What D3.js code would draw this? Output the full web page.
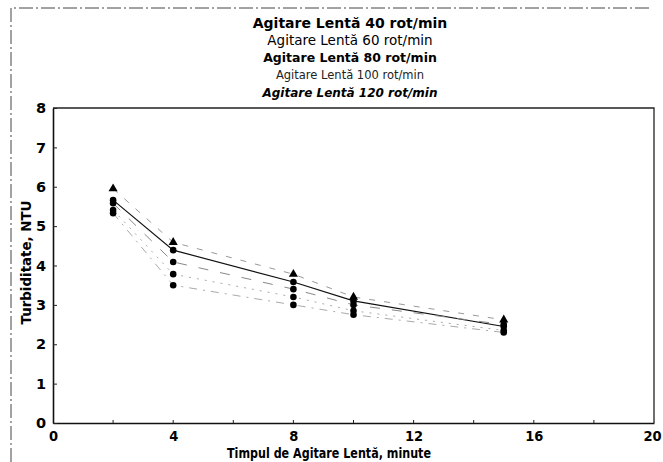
<!DOCTYPE html>
<html>
<head>
<meta charset="utf-8">
<script src="https://cdn.jsdelivr.net/npm/d3@7/dist/d3.min.js"></script>
<style>
  html, body { margin: 0; padding: 0; background: #fff; }
  svg { display: block; }
  text { font-family: "DejaVu Sans", Verdana, sans-serif; fill: #000; }
  .cond { font-stretch: condensed; }
</style>
</head>
<body>
<svg id="chart" width="663" height="462"></svg>
<script>
// Slow-mixing time (minutes) and measured turbidity (NTU) per stirring speed
const times = [2, 4, 8, 10, 15];
const seriesNames = [
  "Agitare Lentă 40 rot/min",
  "Agitare Lentă 60 rot/min",
  "Agitare Lentă 80 rot/min",
  "Agitare Lentă 100 rot/min",
  "Agitare Lentă 120 rot/min"
];
const rpm40  = [5.95, 4.59, 3.78, 3.20, 2.62];
const rpm60  = [5.66, 4.39, 3.58, 3.10, 2.45];
const rpm80  = [5.58, 4.09, 3.40, 3.00, 2.50];
const rpm100 = [5.41, 3.78, 3.20, 2.85, 2.35];
const rpm120 = [5.33, 3.50, 3.00, 2.75, 2.30];
const xTicks = [0, 4, 8, 12, 16, 20];
const yTicks = [0, 1, 2, 3, 4, 5, 6, 7, 8];

const allSeries = [rpm40, rpm60, rpm80, rpm100, rpm120];
const lineStyles = [
  { dash: "6,9",      color: "#999", width: 1 },
  { dash: null,       color: "#111", width: 1.2 },
  { dash: "10,12",    color: "#888", width: 1 },
  { dash: "2,6",      color: "#aaa", width: 1 },
  { dash: "8,6,2,6",  color: "#aaa", width: 1 }
];
const legendStyles = [
  { weight: "bold",   size: 14,   color: "#000", style: "normal" },
  { weight: "normal", size: 13.5, color: "#000", style: "normal" },
  { weight: "bold",   size: 12.5, color: "#000", style: "normal" },
  { weight: "normal", size: 11.5, color: "#222", style: "normal" },
  { weight: "bold",   size: 12,   color: "#000", style: "italic" }
];
const titleFont = "DejaVu Sans, sans-serif";

const svg = d3.select("#chart");
const m = { left: 53, right: 654, top: 108, bottom: 423 };

const x = d3.scaleLinear().domain([0, 20]).range([m.left, m.right]);
const y = d3.scaleLinear().domain([0, 8]).range([m.bottom, m.top]);

// outer dashed frame
svg.append("path")
  .attr("d", `M11,462 L11,8 L650,8`)
  .attr("fill", "none").attr("stroke", "#444")
  .attr("stroke-width", 1).attr("stroke-dasharray", "14,3,2,3");

// legend block (stacked series names)
seriesNames.forEach((name, i) => {
  const s = legendStyles[i];
  svg.append("text")
    .attr("x", 350).attr("y", 24 + i * 17.3)
    .attr("text-anchor", "middle").attr("dominant-baseline", "middle")
    .attr("font-size", s.size).attr("font-weight", s.weight)
    .attr("font-style", s.style).style("fill", s.color)
    .text(name);
});

// plot frame (top and right)
svg.append("path")
  .attr("d", `M${m.left},${m.top} L${m.right},${m.top} L${m.right},${m.bottom}`)
  .attr("fill", "none").attr("stroke", "#222").attr("stroke-width", 1.3);

// axes
const xAxis = d3.axisBottom(x).tickValues(xTicks).tickSize(0).tickPadding(8)
  .tickFormat(d3.format("d"));
const gx = svg.append("g").attr("transform", `translate(0,${m.bottom})`).call(xAxis);
gx.select(".domain").attr("stroke", "#111").attr("stroke-width", 1.6);
gx.selectAll("text").attr("font-size", 14.5).attr("font-weight", "bold")
  .attr("font-family", "DejaVu Sans, sans-serif").attr("class", "cond");
// keep the last label inside the picture
gx.selectAll(".tick").filter(d => d === 20).select("text").attr("dx", -2);

// minor x ticks inside the plot
svg.append("g").selectAll("line")
  .data(d3.range(2, 20, 2))
  .join("line")
  .attr("x1", d => x(d)).attr("x2", d => x(d))
  .attr("y1", m.bottom).attr("y2", m.bottom - 3)
  .attr("stroke", "#222").attr("stroke-width", 1);

const yAxis = d3.axisLeft(y).tickValues(yTicks).tickSize(0).tickPadding(7)
  .tickFormat(d3.format("d"));
const gy = svg.append("g").attr("transform", `translate(${m.left},0)`).call(yAxis);
gy.select(".domain").attr("stroke", "#111").attr("stroke-width", 1.6);
gy.selectAll("text").attr("font-size", 14.5).attr("font-weight", "bold")
  .attr("font-family", "DejaVu Sans, sans-serif");
gy.selectAll(".tick").append("line")
  .attr("x1", 0).attr("x2", 4).attr("y1", 0).attr("y2", 0)
  .attr("stroke", "#222").attr("stroke-width", 1);

// axis titles
svg.append("text")
  .attr("transform", `translate(27,${(m.top + m.bottom) / 2 - 3}) rotate(-90)`)
  .attr("text-anchor", "middle").attr("dominant-baseline", "middle")
  .attr("font-size", 14).attr("font-weight", "bold")
  .attr("font-family", titleFont)
  .attr("textLength", 124).attr("lengthAdjust", "spacingAndGlyphs")
  .text("Turbiditate, NTU");

svg.append("text")
  .attr("x", 329).attr("y", 454)
  .attr("text-anchor", "middle").attr("dominant-baseline", "middle")
  .attr("font-size", 14).attr("font-weight", "bold")
  .attr("font-family", titleFont)
  .attr("textLength", 204).attr("lengthAdjust", "spacingAndGlyphs")
  .text("Timpul de Agitare Lentă, minute");

// series lines
const line = d3.line().x((d, i) => x(times[i])).y(d => y(d));
allSeries.forEach((vals, i) => {
  const st = lineStyles[i];
  svg.append("path")
    .datum(vals)
    .attr("d", line)
    .attr("fill", "none")
    .attr("stroke", st.color)
    .attr("stroke-width", st.width)
    .attr("stroke-dasharray", st.dash);
});

// series markers
allSeries.forEach((vals, i) => {
  const sym = d3.symbol().type(i === 0 ? d3.symbolTriangle : d3.symbolCircle)
    .size(i === 0 ? 36 : 34);
  svg.append("g").selectAll("path")
    .data(vals)
    .join("path")
    .attr("transform", (d, j) => `translate(${x(times[j])},${y(d)})`)
    .attr("d", sym)
    .attr("fill", "#000");
});
</script>
</body>
</html>
